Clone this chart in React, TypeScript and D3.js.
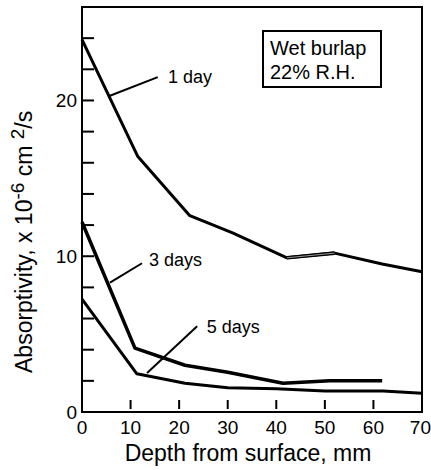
import React from "react";
import * as d3 from "d3";

// ---- data ----
const depth1 = [0, 11.5, 22.2, 31, 42.2, 52, 61.8, 70];
const day1 = [23.9, 16.4, 12.6, 11.5, 9.9, 10.2, 9.5, 9.0];
const depth3 = [0, 10.9, 21.2, 30, 41.4, 51, 61.8];
const day3 = [12.2, 4.1, 3.0, 2.55, 1.85, 2.0, 2.0];
const depth5 = [0, 11.3, 21.2, 30, 40, 50, 62, 70];
const day5 = [7.25, 2.45, 1.85, 1.55, 1.5, 1.35, 1.35, 1.2];

const xTicks = [0, 10, 20, 30, 40, 50, 60, 70];
const yLabelTicks = [0, 10, 20];
const yMinorTicks = [2, 4, 6, 8, 10, 12, 14, 16, 18, 20, 22, 24];

const seriesLabels = ["1 day", "3 days", "5 days"];
// leader line [fromDepth, fromVal, toDepth, toVal], label anchor [depth, val]
const leaders = [
  [5.76, 20.3, 15.6, 21.5],
  [5.76, 8.3, 12.35, 9.55],
  [13.4, 2.5, 23.7, 5.5],
];
const labelPos = [
  [17.7, 21.1],
  [13.8, 9.4],
  [25.7, 5.1],
];
const boxLines = ["Wet burlap", "22% R.H."];

const W = 431;
const H = 470;
const L = 82, R = 422, T = 7, B = 412;
const FONT = "'Liberation Sans', Arial, Helvetica, sans-serif";

export default function App() {
  const x = d3.scaleLinear().domain([0, 70]).range([L, R]);
  const y = d3.scaleLinear().domain([0, 26]).range([B, T]);
  const line = d3
    .line<[number, number]>()
    .x((d) => x(d[0]))
    .y((d) => y(d[1]));

  const s1 = depth1.map((d, i) => [d, day1[i]] as [number, number]);
  const s3 = depth3.map((d, i) => [d, day3[i]] as [number, number]);
  const s5 = depth5.map((d, i) => [d, day5[i]] as [number, number]);
  // doubled stroke segment of the 1-day curve (between 42 and 52 mm)
  const dbl = s1.slice(4, 6);

  return (
    <svg
      width={W}
      height={H}
      style={{ position: "absolute", left: 0, top: 0, background: "#fff" }}
      fontFamily={FONT}
    >
      <rect x={0} y={0} width={W} height={H} fill="#fff" />
      {/* frame */}
      <rect x={L} y={T} width={R - L} height={B - T} fill="none" stroke="#000" strokeWidth={2} />
      {/* y ticks */}
      {yMinorTicks.map((t) => (
        <line key={"yt" + t} x1={L} x2={L + 12} y1={y(t)} y2={y(t)} stroke="#000" strokeWidth={2} />
      ))}
      {yLabelTicks.map((t) => (
        <text key={"yl" + t} x={L - 5} y={y(t)} dy="0.36em" textAnchor="end" fontSize={19}>
          {t}
        </text>
      ))}
      {/* x ticks */}
      {xTicks.filter((t) => t > 0).map((t) => (
        <line key={"xt" + t} x1={x(t)} x2={x(t)} y1={B - 12} y2={B - 3} stroke="#000" strokeWidth={2} />
      ))}
      {xTicks.map((t, i) => (
        <text
          key={"xl" + t}
          x={i === xTicks.length - 1 ? W : x(t)}
          y={434}
          textAnchor={i === xTicks.length - 1 ? "end" : "middle"}
          fontSize={19}
        >
          {t}
        </text>
      ))}
      {/* axis titles */}
      <text x={(L + R) / 2 - 4} y={461} textAnchor="middle" fontSize={23}>
        Depth from surface, mm
      </text>
      <text transform={`translate(32,373) rotate(-90)`} textAnchor="start" fontSize={23}>
        Absorptivity, x 10
        <tspan fontSize={19} dy={-8}>-6</tspan>
        <tspan dy={8}> cm </tspan>
        <tspan fontSize={19} dy={-8}>2</tspan>
        <tspan dy={8}>/s</tspan>
      </text>
      {/* series */}
      <path d={line(s1) || ""} fill="none" stroke="#000" strokeWidth={3} strokeLinejoin="round" />
      <path d={line(dbl) || ""} fill="none" stroke="#000" strokeWidth={3.6} />
      <path d={line(dbl) || ""} fill="none" stroke="#fff" strokeWidth={0.6} />
      <path d={line(s3) || ""} fill="none" stroke="#000" strokeWidth={3.5} strokeLinejoin="round" />
      <path d={line(s5) || ""} fill="none" stroke="#000" strokeWidth={3} strokeLinejoin="round" />
      {/* annotations */}
      {leaders.map((l, i) => (
        <line key={"ld" + i} x1={x(l[0])} y1={y(l[1])} x2={x(l[2])} y2={y(l[3])} stroke="#000" strokeWidth={2} />
      ))}
      {labelPos.map((p, i) => (
        <text key={"lb" + i} x={x(p[0])} y={y(p[1])} fontSize={18}>
          {seriesLabels[i]}
        </text>
      ))}
      {/* condition box */}
      <rect x={263} y={31} width={118} height={56} fill="#fff" stroke="#000" strokeWidth={2} />
      {boxLines.map((s, i) => (
        <text key={"bx" + i} x={270} y={55 + i * 24} fontSize={20}>
          {s}
        </text>
      ))}
    </svg>
  );
}
